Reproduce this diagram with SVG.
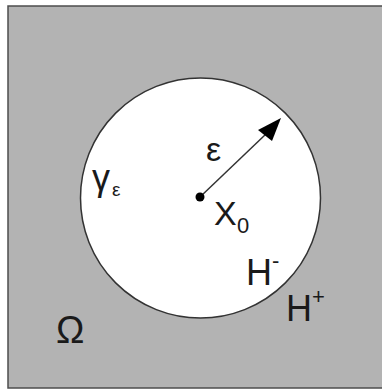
<svg xmlns="http://www.w3.org/2000/svg" width="382" height="389" viewBox="0 0 382 389">
<style>
.t{font-family:"Liberation Sans",Arial,sans-serif;fill:#1a1a1a}
</style>
<rect x="0" y="0" width="382" height="389" fill="#ffffff"/>
<g id="domain">
<rect x="8" y="6" width="376" height="382" fill="#b3b3b3" stroke="#4d4d4d" stroke-width="1.5"/>
</g>
<g id="ball">
<circle cx="200.5" cy="198" r="120" fill="#ffffff" stroke="#333333" stroke-width="1.5"/>
</g>
<g id="connectors">
<line x1="200" y1="197" x2="266" y2="134" stroke="#333333" stroke-width="1.5"/>
<polygon points="281,118 258,130 272,141" fill="#000000"/>
</g>
<g id="center">
<circle cx="200" cy="197" r="4.5" fill="#000000"/>
</g>
<g id="labels">
<text class="t" x="206" y="161" font-size="34">ε</text>
<text class="t" x="214" y="225" font-size="34">X</text>
<text class="t" x="237" y="233" font-size="22">0</text>
<text class="t" x="92" y="190" font-size="36">γ</text>
<text class="t" x="112" y="196" font-size="19">ε</text>
<text class="t" x="246" y="285" font-size="36">H</text>
<text class="t" x="272" y="268" font-size="22">-</text>
<text class="t" x="286" y="321" font-size="36">H</text>
<text class="t" x="312" y="304" font-size="22">+</text>
<text class="t" x="56" y="343" font-size="38">Ω</text>
</g>
</svg>
